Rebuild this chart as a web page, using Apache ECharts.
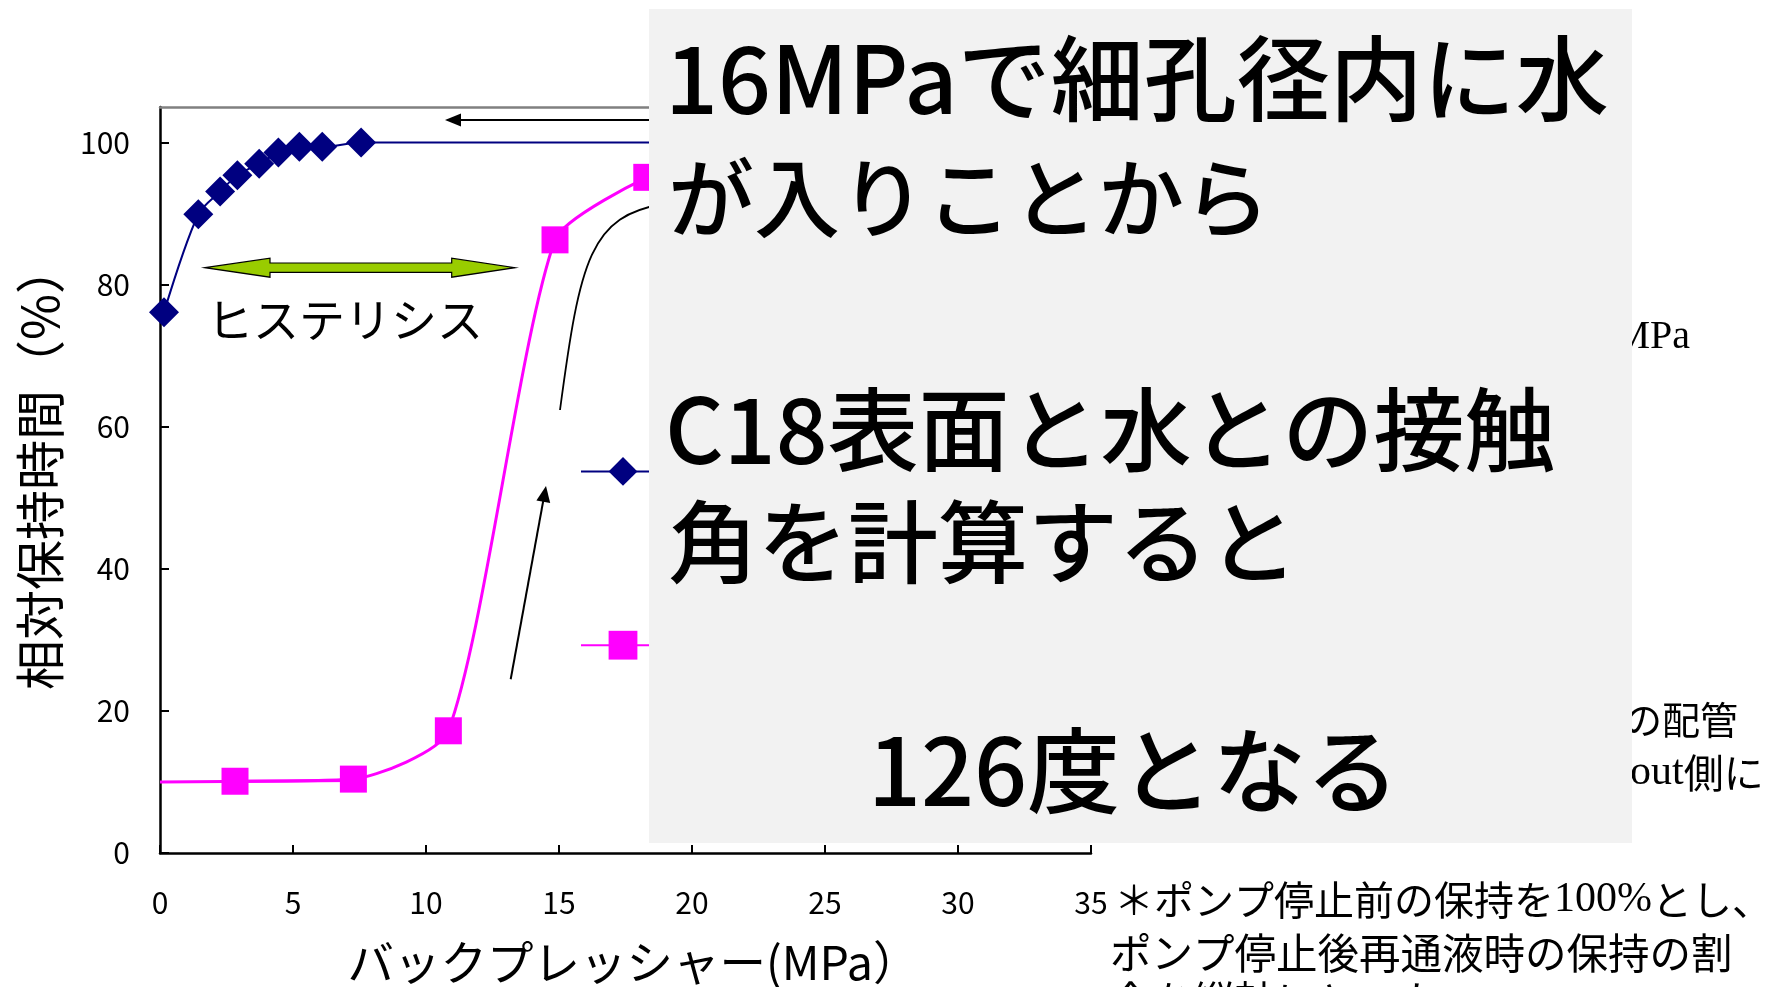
<!DOCTYPE html>
<html><head><meta charset="utf-8">
<script src="https://cdn.jsdelivr.net/npm/echarts@6/dist/echarts.min.js"></script>
<style>html,body{margin:0;padding:0;background:#fff}#c{width:1772px;height:987px}</style>
</head><body><div id="c"></div>
<script>
// ---- data ----
const xTicks = [0, 5, 10, 15, 20, 25, 30, 35];
const yTicks = [0, 20, 40, 60, 80, 100];
const blueX = [0.15, 1.44, 2.26, 2.91, 3.73, 4.45, 5.24, 6.10, 7.56, 20];
const blueY = [76.1, 89.9, 93.1, 95.4, 97.0, 98.6, 99.4, 99.4, 100, 100];
const pinkX = [2.82, 7.27, 10.84, 14.85, 18.3];
const pinkY = [10.1, 10.4, 17.2, 86.3, 95.1];
const pinkBaseX = [0, 7.27];
const pinkBaseY = [10.0, 10.2];
const seriesNames = ['系列1', '系列2'];
const xName = 'バックプレッシャー(MPa）';
const yName = '相対保持時間（%）';
const hysteresisLabel = 'ヒステリシス';
const boxLines = ['16MPaで細孔径内に水', 'が入りことから', 'C18表面と水との接触', '角を計算すると', '126度となる'];
const noteLines = ['＊ポンプ停止前の保持を', '100%', 'とし、', 'ポンプ停止後再通液時の保持の割', '合を縦軸にとった'];
const sideTexts = ['MPa', 'の配管', 'out', '側に'];

// ---- chart ----
const JP = '"Noto Sans CJK JP", sans-serif';
const SERIF = '"Liberation Serif", "DejaVu Serif", serif';
const zip = (a, b) => a.map((v, i) => [v, b[i]]);
const chart = echarts.init(document.getElementById('c'), null, {renderer: 'canvas'});

const boxText = (t, x, y, size) => ({
  type: 'text', x: x, y: y, z: 101,
  style: {text: t, font: '500 ' + size + 'px ' + JP, fill: '#000', textVerticalAlign: 'middle', textAlign: 'left'}
});

const option = {
  animation: false,
  backgroundColor: '#fff',
  grid: {left: 160, top: 107, right: 681, bottom: 134, outerBoundsMode: 'none', containLabel: false},
  legend: {
    data: seriesNames, orient: 'vertical', left: 575, top: 452, padding: 5,
    itemWidth: 84, itemHeight: 36, itemGap: 145,
    textStyle: {fontSize: 24, color: '#000', fontFamily: JP}
  },
  xAxis: [{
    type: 'value', min: 0, max: 35, interval: 5,
    name: xName, nameLocation: 'middle', nameGap: 86,
    nameTextStyle: {fontSize: 46.5, color: '#000', fontFamily: JP, padding: [0, 0, 0, 16]},
    axisLine: {lineStyle: {color: '#000', width: 2.5}},
    axisTick: {inside: true, length: 8, lineStyle: {color: '#000', width: 2}},
    axisLabel: {fontSize: 30, color: '#000', margin: 35, fontFamily: JP},
    splitLine: {show: false}
  }, {
    type: 'value', position: 'top', min: 0, max: 35,
    axisLine: {show: true, lineStyle: {color: '#808080', width: 2.5}},
    axisTick: {show: false}, axisLabel: {show: false}, splitLine: {show: false}
  }],
  yAxis: {
    type: 'value', min: 0, max: 105, interval: 20,
    name: yName, nameLocation: 'middle', nameGap: 95,
    nameTextStyle: {fontSize: 50, color: '#000', fontFamily: JP, padding: [0, 0, 0, 26]},
    axisLine: {lineStyle: {color: '#000', width: 2.5}},
    axisTick: {inside: true, length: 9, customValues: yTicks, lineStyle: {color: '#000', width: 2}},
    axisLabel: {fontSize: 30, color: '#000', margin: 30, customValues: yTicks, fontFamily: JP},
    splitLine: {show: false}
  },
  series: [{
    name: seriesNames[0], type: 'line', data: zip(blueX, blueY),
    symbol: 'diamond', symbolSize: 30, smooth: 0.3,
    lineStyle: {color: '#000080', width: 2}, itemStyle: {color: '#000080'}, z: 3
  }, {
    name: 'base', type: 'line', data: zip(pinkBaseX, pinkBaseY), symbol: 'none',
    lineStyle: {color: '#FF00FF', width: 3}, silent: true, z: 2
  }, {
    name: seriesNames[1], type: 'line', data: zip(pinkX, pinkY),
    symbol: 'rect', symbolSize: 27, smooth: 0.22,
    lineStyle: {color: '#FF00FF', width: 3}, itemStyle: {color: '#FF00FF'}, z: 3
  }],
  graphic: [
    // text behind the box (partially hidden)
    {type: 'text', x: 1690, y: 337, z: 1, style: {text: sideTexts[0], font: '40px ' + SERIF, fill: '#000', textAlign: 'right', textVerticalAlign: 'middle'}},
    {type: 'text', x: 1624, y: 720, z: 1, style: {text: sideTexts[1], font: '38px ' + JP, fill: '#000', textAlign: 'left', textVerticalAlign: 'middle'}},
    {type: 'text', x: 1630, y: 773, z: 1, style: {
      text: '{s|' + sideTexts[2] + '}{j|' + sideTexts[3] + '}', textVerticalAlign: 'middle', textAlign: 'left',
      rich: {s: {font: '42px ' + SERIF, fill: '#000'}, j: {font: '40px ' + JP, fill: '#000'}}}},
    // hysteresis double arrow
    {type: 'polygon', z: 10, shape: {points: [[205,267.7],[270,258.2],[270,263],[451.7,263],[451.7,258.2],[515,267.7],[451.7,277.2],[451.7,272.4],[270,272.4],[270,277.2]]},
      style: {fill: '#99CC00', stroke: '#000', lineWidth: 1.2}},
    {type: 'text', x: 207, y: 320, z: 10, style: {text: hysteresisLabel, font: '46px ' + JP, fill: '#000', textVerticalAlign: 'middle'}},
    // top left-pointing arrow
    {type: 'line', z: 10, shape: {x1: 458, y1: 120, x2: 660, y2: 120}, style: {stroke: '#000', lineWidth: 2}},
    {type: 'polygon', z: 10, shape: {points: [[445,120],[461,113.5],[461,126.5]]}, style: {fill: '#000'}},
    // rising arrow
    {type: 'line', z: 10, shape: {x1: 510.7, y1: 679.3, x2: 543.3, y2: 500.5}, style: {stroke: '#000', lineWidth: 2}},
    {type: 'polygon', z: 10, shape: {points: [[546,486],[550.2,503],[536.4,500.5]]}, style: {fill: '#000'}},
    // curved line
    {type: 'bezierCurve', z: 10, shape: {x1: 560, y1: 410, cpx1: 580, cpy1: 260, cpx2: 590, cpy2: 215, x2: 665, y2: 204},
      style: {stroke: '#000', lineWidth: 1.8, fill: null}},
    // gray box
    {type: 'rect', z: 100, shape: {x: 649, y: 9, width: 983, height: 834}, style: {fill: '#F2F2F2'}},
    boxText(boxLines[0], 665, 79, 93),
    boxText(boxLines[1], 668, 198, 86),
    boxText(boxLines[2], 665, 429, 91),
    boxText(boxLines[3], 668, 542, 90),
    boxText(boxLines[4], 868, 771, 93),
    // bottom note
    {type: 'text', x: 1114, y: 900, z: 10, style: {
      text: '{j|' + noteLines[0] + '}{s|' + noteLines[1] + '}{j|' + noteLines[2] + '}', textVerticalAlign: 'middle',
      rich: {j: {font: '40px ' + JP, fill: '#000'}, s: {font: '42px ' + SERIF, fill: '#000'}}}},
    {type: 'text', x: 1110, y: 953, z: 10, style: {text: noteLines[3], font: '41.5px ' + JP, fill: '#000', textVerticalAlign: 'middle'}},
    {type: 'text', x: 1110, y: 1001, z: 10, style: {text: noteLines[4], font: '41.5px ' + JP, fill: '#000', textVerticalAlign: 'middle'}}
  ]
};
chart.setOption(option);
</script>
</body></html>
